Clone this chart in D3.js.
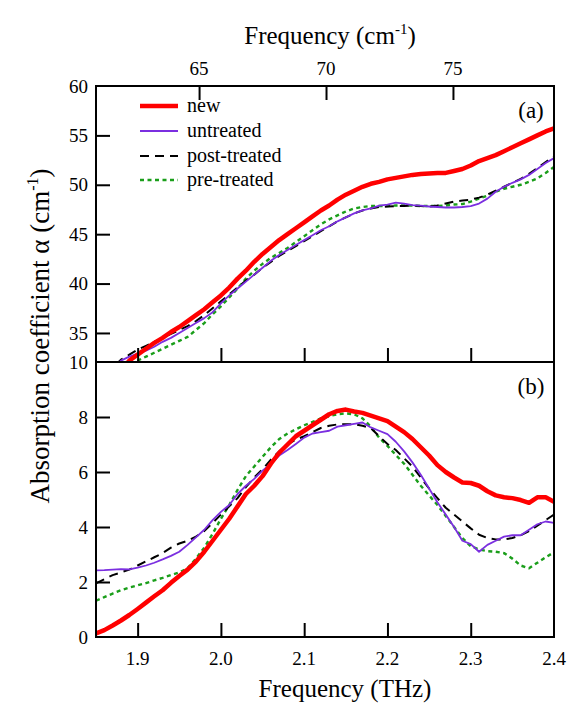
<!DOCTYPE html>
<html><head><meta charset="utf-8">
<script src="https://cdn.jsdelivr.net/npm/d3@7"></script>
<style>body{margin:0;background:#fff}svg{display:block}</style>
</head><body>
<svg id="c" width="567" height="704"></svg>
<script>
// ---------- data ----------
const seriesNames = ["new", "untreated", "post-treated", "pre-treated"];
const xTicksTHz = [1.9, 2.0, 2.1, 2.2, 2.3, 2.4];
const xTicksCm = [65, 70, 75];
const yTicksA = [35, 40, 45, 50, 55, 60];
const yTicksB = [0, 2, 4, 6, 8, 10];

// panel (a): [THz, alpha]
const aNew = [[1.885,31.7],[1.89,32.2],[1.90,32.8],[1.91,33.4],[1.92,34.0],[1.93,34.5],[1.94,35.1],[1.95,35.6],[1.96,36.2],[1.97,36.8],[1.98,37.4],[1.99,38.1],[2.00,38.8],[2.01,39.6],[2.02,40.5],[2.03,41.3],[2.04,42.2],[2.05,43.0],[2.06,43.7],[2.07,44.4],[2.08,45.0],[2.09,45.6],[2.10,46.2],[2.11,46.8],[2.12,47.4],[2.13,47.9],[2.14,48.5],[2.15,49.0],[2.16,49.4],[2.17,49.8],[2.18,50.1],[2.19,50.3],[2.20,50.55],[2.21,50.7],[2.22,50.85],[2.23,51.0],[2.24,51.1],[2.25,51.15],[2.26,51.2],[2.27,51.2],[2.28,51.4],[2.29,51.6],[2.30,51.95],[2.31,52.4],[2.32,52.7],[2.33,53.0],[2.34,53.4],[2.35,53.8],[2.36,54.2],[2.37,54.6],[2.38,55.0],[2.39,55.4],[2.40,55.7]];
const aUntreated = [[1.874,31.8],[1.88,32.2],[1.89,32.6],[1.90,32.9],[1.91,33.2],[1.92,33.6],[1.93,34.1],[1.94,34.5],[1.95,35.0],[1.96,35.5],[1.97,36.0],[1.98,36.5],[1.99,37.1],[2.00,38.0],[2.01,38.8],[2.02,39.5],[2.03,40.2],[2.04,40.9],[2.05,41.6],[2.06,42.3],[2.07,42.9],[2.08,43.4],[2.09,43.9],[2.10,44.4],[2.11,44.9],[2.12,45.4],[2.13,45.8],[2.14,46.3],[2.15,46.7],[2.16,47.1],[2.17,47.4],[2.18,47.6],[2.19,47.9],[2.20,48.0],[2.21,48.2],[2.22,48.1],[2.23,47.95],[2.24,47.9],[2.25,47.8],[2.26,47.75],[2.27,47.7],[2.28,47.7],[2.29,47.75],[2.30,47.85],[2.31,48.1],[2.32,48.6],[2.33,49.3],[2.34,49.8],[2.35,50.2],[2.36,50.55],[2.37,51.0],[2.38,51.6],[2.39,52.2],[2.40,52.7]];
const aPost = [[1.874,31.8],[1.88,32.3],[1.89,32.8],[1.90,33.3],[1.91,33.7],[1.92,34.1],[1.93,34.5],[1.94,34.9],[1.95,35.3],[1.96,35.7],[1.97,36.2],[1.98,36.8],[1.99,37.5],[2.00,38.2],[2.01,38.9],[2.02,39.6],[2.03,40.3],[2.04,40.9],[2.05,41.6],[2.06,42.2],[2.07,42.8],[2.08,43.3],[2.09,43.8],[2.10,44.3],[2.11,44.8],[2.12,45.3],[2.13,45.8],[2.14,46.3],[2.15,46.7],[2.16,47.1],[2.17,47.4],[2.18,47.6],[2.19,47.75],[2.20,47.8],[2.21,47.85],[2.22,47.85],[2.23,47.9],[2.24,47.85],[2.25,47.8],[2.26,47.9],[2.27,48.1],[2.28,48.3],[2.29,48.4],[2.30,48.5],[2.31,48.7],[2.32,49.0],[2.33,49.4],[2.34,49.8],[2.35,50.2],[2.36,50.6],[2.37,51.1],[2.38,51.7],[2.39,52.3],[2.40,52.85]];
const aPre = [[1.892,31.8],[1.90,32.2],[1.91,32.6],[1.92,33.0],[1.93,33.4],[1.94,33.8],[1.95,34.2],[1.96,34.6],[1.97,35.3],[1.98,36.0],[1.99,36.9],[2.00,37.7],[2.01,38.6],[2.02,39.5],[2.03,40.5],[2.04,41.3],[2.05,42.0],[2.06,42.6],[2.07,43.1],[2.08,43.6],[2.09,44.2],[2.10,44.8],[2.11,45.4],[2.12,46.0],[2.13,46.5],[2.14,46.9],[2.15,47.3],[2.16,47.6],[2.17,47.75],[2.18,47.85],[2.19,47.85],[2.20,47.85],[2.21,47.9],[2.22,47.9],[2.23,47.9],[2.24,47.85],[2.25,47.85],[2.26,47.85],[2.27,47.9],[2.28,48.0],[2.29,48.05],[2.30,48.3],[2.31,48.6],[2.32,48.9],[2.33,49.3],[2.34,49.6],[2.35,49.8],[2.36,50.0],[2.37,50.3],[2.38,50.65],[2.39,51.2],[2.40,51.8]];

// panel (b): [THz, alpha]
const bNew = [[1.85,0.13],[1.86,0.25],[1.87,0.42],[1.88,0.6],[1.89,0.8],[1.90,1.02],[1.91,1.25],[1.92,1.48],[1.93,1.7],[1.94,1.97],[1.95,2.22],[1.96,2.45],[1.97,2.74],[1.98,3.1],[1.99,3.5],[2.00,3.9],[2.01,4.3],[2.02,4.75],[2.03,5.2],[2.04,5.5],[2.05,5.85],[2.06,6.3],[2.07,6.7],[2.08,7.0],[2.09,7.3],[2.10,7.5],[2.11,7.7],[2.12,7.9],[2.13,8.1],[2.14,8.22],[2.15,8.27],[2.16,8.2],[2.17,8.15],[2.18,8.05],[2.19,7.95],[2.20,7.85],[2.21,7.65],[2.22,7.45],[2.23,7.2],[2.24,6.9],[2.25,6.6],[2.26,6.25],[2.27,6.0],[2.28,5.8],[2.29,5.62],[2.30,5.6],[2.31,5.5],[2.32,5.3],[2.33,5.15],[2.34,5.08],[2.35,5.05],[2.36,4.98],[2.37,4.88],[2.38,5.08],[2.39,5.08],[2.40,4.92]];
const bUntreated = [[1.85,2.42],[1.86,2.43],[1.87,2.45],[1.88,2.47],[1.89,2.46],[1.90,2.52],[1.91,2.6],[1.92,2.7],[1.93,2.82],[1.94,2.95],[1.95,3.1],[1.96,3.35],[1.97,3.62],[1.98,3.9],[1.99,4.25],[2.00,4.55],[2.01,4.8],[2.02,5.2],[2.03,5.5],[2.04,5.75],[2.05,6.05],[2.06,6.3],[2.07,6.6],[2.08,6.8],[2.09,7.02],[2.10,7.25],[2.11,7.4],[2.12,7.45],[2.13,7.5],[2.14,7.65],[2.15,7.7],[2.16,7.75],[2.17,7.8],[2.18,7.62],[2.19,7.5],[2.20,7.38],[2.21,7.1],[2.22,6.75],[2.23,6.35],[2.24,5.9],[2.25,5.4],[2.26,4.9],[2.27,4.45],[2.28,4.0],[2.29,3.5],[2.30,3.38],[2.31,3.1],[2.32,3.35],[2.33,3.5],[2.34,3.65],[2.35,3.7],[2.36,3.7],[2.37,3.9],[2.38,4.1],[2.39,4.2],[2.40,4.15]];
const bPost = [[1.85,1.95],[1.86,2.1],[1.87,2.25],[1.88,2.35],[1.89,2.45],[1.90,2.6],[1.91,2.75],[1.92,2.9],[1.93,3.05],[1.94,3.25],[1.95,3.4],[1.96,3.5],[1.97,3.65],[1.98,3.85],[1.99,4.15],[2.00,4.45],[2.01,4.75],[2.02,5.05],[2.03,5.45],[2.04,5.8],[2.05,6.1],[2.06,6.45],[2.07,6.75],[2.08,7.0],[2.09,7.18],[2.10,7.3],[2.11,7.45],[2.12,7.6],[2.13,7.68],[2.14,7.73],[2.15,7.74],[2.16,7.74],[2.17,7.68],[2.18,7.6],[2.19,7.3],[2.20,7.02],[2.21,6.8],[2.22,6.5],[2.23,6.2],[2.24,5.8],[2.25,5.4],[2.26,5.05],[2.27,4.7],[2.28,4.45],[2.29,4.2],[2.30,3.95],[2.31,3.72],[2.32,3.6],[2.33,3.55],[2.34,3.55],[2.35,3.6],[2.36,3.7],[2.37,3.85],[2.38,4.05],[2.39,4.25],[2.40,4.45]];
const bPre = [[1.85,1.32],[1.86,1.45],[1.87,1.58],[1.88,1.7],[1.89,1.8],[1.90,1.88],[1.91,1.96],[1.92,2.06],[1.93,2.15],[1.94,2.25],[1.95,2.35],[1.96,2.5],[1.97,2.85],[1.98,3.25],[1.99,3.75],[2.00,4.3],[2.01,4.8],[2.02,5.35],[2.03,5.85],[2.04,6.2],[2.05,6.55],[2.06,6.9],[2.07,7.2],[2.08,7.4],[2.09,7.55],[2.10,7.7],[2.11,7.82],[2.12,7.95],[2.13,8.03],[2.14,8.1],[2.15,8.13],[2.16,8.1],[2.17,7.95],[2.18,7.65],[2.19,7.25],[2.20,6.95],[2.21,6.62],[2.22,6.3],[2.23,5.9],[2.24,5.5],[2.25,5.15],[2.26,4.8],[2.27,4.4],[2.28,4.0],[2.29,3.6],[2.30,3.3],[2.31,3.18],[2.32,3.12],[2.33,3.1],[2.34,3.05],[2.35,2.85],[2.36,2.6],[2.37,2.5],[2.38,2.7],[2.39,2.9],[2.40,3.08]];

// ---------- layout ----------
const L = 96, R = 554, T = 86, M = 362, B = 637;
const FONT = "Liberation Serif";
const svg = d3.select("#c");
svg.append("rect").attr("width",567).attr("height",704).attr("fill","#fff");

const x = d3.scaleLinear().domain([1.85, 2.4]).range([L, R]);
const xCm = d3.scaleLinear().domain([60.94, 78.98]).range([L, R]);
const yA = d3.scaleLinear().domain([32.06, 60]).range([M, T]);
const yB = d3.scaleLinear().domain([0, 10]).range([B, M]);

const styles = [
  {color:"#ff0000", width:4.5, dash:null},
  {color:"#7b2fe0", width:1.8, dash:null},
  {color:"#000000", width:2, dash:"9,6"},
  {color:"#1a9e1a", width:2.4, dash:"4,3.5"}
];

const defs = svg.append("defs");
defs.append("clipPath").attr("id","clipA").append("rect").attr("x",L).attr("y",T).attr("width",R-L).attr("height",M-T);
defs.append("clipPath").attr("id","clipB").append("rect").attr("x",L).attr("y",M).attr("width",R-L).attr("height",B-M);

function drawPanel(data, yScale, clip){
  const g = svg.append("g").attr("clip-path", `url(#${clip})`);
  const line = d3.line().x(d=>x(d[0])).y(d=>yScale(d[1]));
  [3,2,1,0].forEach(i=>{
    const s = styles[i];
    g.append("path").datum(data[i]).attr("d", line).attr("fill","none")
      .attr("stroke", s.color).attr("stroke-width", s.width)
      .attr("stroke-dasharray", s.dash).attr("stroke-linejoin","round");
  });
}
drawPanel([aNew, aUntreated, aPost, aPre], yA, "clipA");
drawPanel([bNew, bUntreated, bPost, bPre], yB, "clipB");

// axes (inward ticks)
const tk = 14;
const axisG = svg.append("g");
axisG.append("g").attr("transform",`translate(${L},0)`)
  .call(d3.axisRight(yA).tickValues(yTicksA.filter(v=>v<60)).tickSize(tk).tickFormat(""))
  .call(g=>g.select(".domain").remove());
axisG.append("g").attr("transform",`translate(${L},0)`)
  .call(d3.axisRight(yB).tickValues(yTicksB.filter(v=>v>0&&v<10)).tickSize(tk).tickFormat(""))
  .call(g=>g.select(".domain").remove());
axisG.append("g").attr("transform",`translate(0,${M})`)
  .call(d3.axisTop(x).tickValues(xTicksTHz.filter(v=>v<2.4)).tickSize(tk).tickFormat(""))
  .call(g=>g.select(".domain").remove());
axisG.append("g").attr("transform",`translate(0,${B})`)
  .call(d3.axisTop(x).tickValues(xTicksTHz.filter(v=>v<2.4)).tickSize(tk).tickFormat(""))
  .call(g=>g.select(".domain").remove());
axisG.append("g").attr("transform",`translate(0,${T})`)
  .call(d3.axisBottom(xCm).tickValues(xTicksCm).tickSize(tk).tickFormat(""))
  .call(g=>g.select(".domain").remove());
axisG.selectAll(".tick line").attr("stroke","#000").attr("stroke-width",2);

// frame
svg.append("rect").attr("x",L).attr("y",T).attr("width",R-L).attr("height",B-T)
  .attr("fill","none").attr("stroke","#000").attr("stroke-width",2);
svg.append("line").attr("x1",L).attr("x2",R).attr("y1",M).attr("y2",M)
  .attr("stroke","#000").attr("stroke-width",2);

function txt(parent){ return parent.append("text").attr("font-family",FONT).attr("fill","#000"); }

// tick labels
const fs = 19;
const lab = svg.append("g");
yTicksA.forEach(v=>{
  txt(lab).attr("font-size",fs).attr("x",L-8).attr("y",yA(v)).attr("dy","0.35em").attr("text-anchor","end").text(v);
});
yTicksB.forEach(v=>{
  txt(lab).attr("font-size",fs).attr("x",L-8).attr("y",yB(v)).attr("dy","0.35em").attr("text-anchor","end").text(v);
});
xTicksTHz.forEach(v=>{
  txt(lab).attr("font-size",fs).attr("x",x(v)).attr("y",B+28).attr("text-anchor","middle").text(d3.format(".1f")(v));
});
xTicksCm.forEach(v=>{
  txt(lab).attr("font-size",fs).attr("x",xCm(v)).attr("y",T-11).attr("text-anchor","middle").text(v);
});

// axis titles
txt(svg).attr("x",345).attr("y",697).attr("text-anchor","middle").attr("font-size",25).text("Frequency (THz)");
const tt = txt(svg).attr("x",330).attr("y",44).attr("text-anchor","middle").attr("font-size",25);
tt.append("tspan").text("Frequency (cm");
tt.append("tspan").attr("font-size",15).attr("dy",-10).text("-1");
tt.append("tspan").attr("dy",10).text(")");
const yt = txt(svg).attr("transform","translate(49,336) rotate(-90)").attr("text-anchor","middle").attr("font-size",27);
yt.append("tspan").text("Absorption coefficient  \u03b1 (cm");
yt.append("tspan").attr("font-size",16).attr("dy",-11).text("-1");
yt.append("tspan").attr("dy",11).text(")");

// panel labels
txt(svg).attr("x",531).attr("y",118).attr("text-anchor","middle").attr("font-size",23).text("(a)");
txt(svg).attr("x",531).attr("y",394).attr("text-anchor","middle").attr("font-size",23).text("(b)");

// legend
const leg = svg.append("g");
const legY = [106, 131, 156, 180];
seriesNames.forEach((n,i)=>{
  const s = styles[i];
  leg.append("line").attr("x1",140).attr("x2",178).attr("y1",legY[i]).attr("y2",legY[i])
    .attr("stroke",s.color).attr("stroke-width",s.width).attr("stroke-dasharray",s.dash);
  txt(leg).attr("x",187).attr("y",legY[i]).attr("dy","0.32em").attr("font-size",20).text(n);
});
</script>
</body></html>
